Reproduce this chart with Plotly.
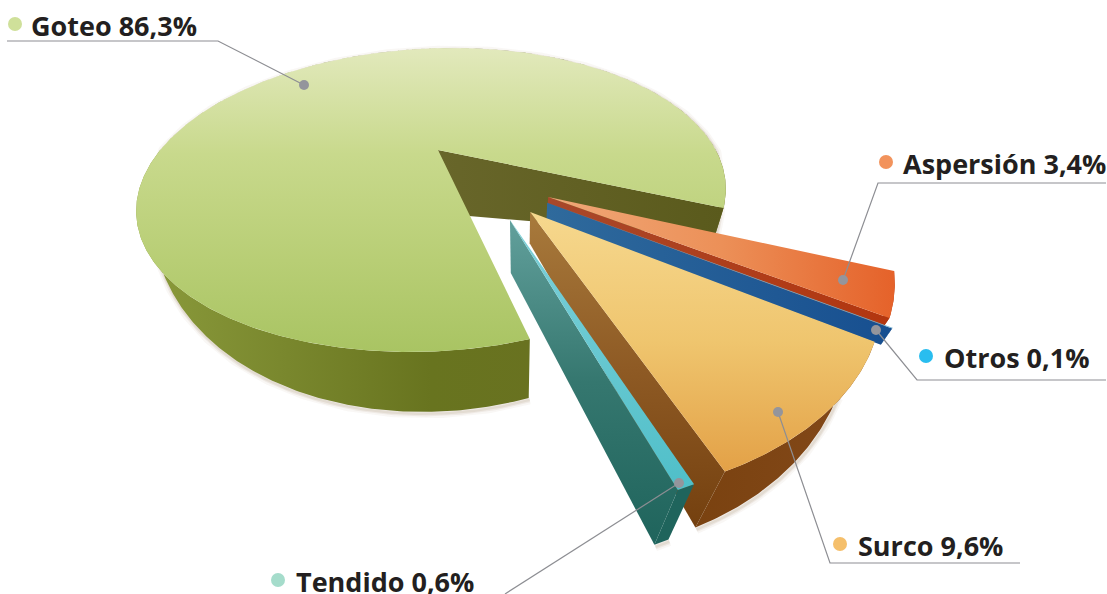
import numpy as np
import plotly.graph_objects as go

# ---- data ----
labels = ["Aspersión", "Otros", "Surco", "Tendido", "Goteo"]
values = [3.4, 0.1, 9.6, 0.6, 86.3]
value_texts = ["3,4%", "0,1%", "9,6%", "0,6%", "86,3%"]

# ---- drawing of the exploded perspective pie ----
first_angle = 22.0
gap_before_goteo = 1.7      # degrees of air the artwork leaves next to the big slice
explode_r = [0.489, 0.508, 0.508, 0.508, 0.0]
explode_ang = [39.5, 42.9, 51.6, 60.3, 0.0]
radius = [1.013, 1.01, 1.0, 0.985, 1.0]
apex_drop = [0.02, 0.025, 0.048, 0.083, 0.09]
rim_drop = [0.033, 0.033, 0.108, 0.108, 0.118]

top_col = [
    ("horizontal", [[0, "#f0a878"], [0.5, "#ec9058"], [1, "#e5622a"]]),
    ("horizontal", [[0, "#7fb4cf"], [1, "#6fb0d0"]]),
    ("vertical", [[0, "#e3a147"], [0.5, "#efc56e"], [1, "#f6d88e"]]),
    ("vertical", [[0, "#4fbfc9"], [1, "#7fd0d8"]]),
    ("vertical", [[0, "#a9c463"], [0.3, "#b8ce75"], [0.65, "#c8d98c"], [1, "#e2e9bc"]]),
]
rim_col = [
    ("horizontal", [[0, "#a8482a"], [1, "#b3360f"]]),
    ("horizontal", [[0, "#2f6a9c"], [1, "#174f90"]]),
    ("horizontal", [[0, "#7a4210"], [1, "#84491a"]]),
    ("horizontal", [[0, "#1f645c"], [1, "#1f645c"]]),
    ("horizontal", [[0, "#8b9b3c"], [0.5, "#68741f"], [1, "#6a6e22"]]),
]
edge_col = [
    ("horizontal", [[0, "#a8482a"], [1, "#b3360f"]]),
    ("horizontal", [[0, "#2f6a9c"], [1, "#174f90"]]),
    ("vertical", [[0, "#74400f"], [0.5, "#8e5a24"], [1, "#a87a3c"]]),
    ("vertical", [[0, "#1f645c"], [0.5, "#35776f"], [1, "#62a09c"]]),
    ("horizontal", [[0, "#68662a"], [1, "#5a5a1c"]]),
]

# plane of the pie -> page, with perspective
CX, CY, A, B, K, S = 438.0, 150.0, 277.7, 135.5, 0.329, -19.0
VX, VY = 520.0, 860.0


def project(u, v):
    w = 1 - K * v
    return CX + (A * u + S * v) / w, CY + B * v / w


def drop(X, Y, t):
    return X + t * (VX - X), Y + t * (VY - Y)


def poly(xs, ys, style):
    kind, scale = style
    return go.Scatter(
        x=list(xs) + [xs[0]], y=list(ys) + [ys[0]], mode="lines", fill="toself",
        line=dict(width=0), hoverinfo="skip", showlegend=False,
        fillgradient=dict(type=kind, colorscale=scale),
    )


fig = go.Figure()

sweeps = [v * 3.6 for v in values]
sweeps[-1] -= gap_before_goteo
starts = first_angle + np.concatenate([[0], np.cumsum(sweeps)[:-1]])
starts[-1] += gap_before_goteo

slice_order = [4, 0, 1, 2, 3]
for i in slice_order:
    th = np.radians(np.linspace(starts[i], starts[i] + sweeps[i], max(12, int(sweeps[i] * 2))))
    au = explode_r[i] * np.cos(np.radians(explode_ang[i]))
    av = explode_r[i] * np.sin(np.radians(explode_ang[i]))
    u = au + radius[i] * np.cos(th)
    v = av + radius[i] * np.sin(th)
    X, Y = project(u, v)
    t = np.maximum(0, rim_drop[i] * v)
    LX, LY = drop(X, Y, t)
    ax, ay = project(au, av)
    lax, lay = drop(ax, ay, apex_drop[i])
    # soft contact shadow under the rim
    if rim_drop[i] > 0.05:
        for w_, op in ((9, 0.05), (5, 0.08), (2.5, 0.10)):
            fig.add_trace(go.Scatter(x=LX + 1, y=LY + 2, mode="lines", hoverinfo="skip", showlegend=False,
                                     line=dict(width=w_, color=f"rgba(130,95,50,{op})")))
    # rim
    fig.add_trace(poly(np.r_[X, LX[::-1]], np.r_[Y, LY[::-1]], rim_col[i]))
    # visible cut face
    fig.add_trace(poly([ax, X[-1], LX[-1], lax], [ay, Y[-1], LY[-1], lay], edge_col[i]))
    # top
    fig.add_trace(poly(np.r_[ax, X], np.r_[ay, Y], top_col[i]))

# ---- callouts ----
GREY = "#8d8e93"
leaders = {
    "Goteo": ([7, 218, 304], [41, 41, 85]),
    "Aspersión": ([1106, 878, 843], [183, 183, 280]),
    "Otros": ([1106, 917, 876], [380, 380, 330]),
    "Surco": ([1020, 830, 778], [563, 563, 412]),
    "Tendido": ([505, 679], [594, 483]),
}
for name, (lx, ly) in leaders.items():
    fig.add_trace(go.Scatter(x=lx, y=ly, mode="lines", line=dict(color=GREY, width=1.2),
                             hoverinfo="skip", showlegend=False))
    fig.add_trace(go.Scatter(x=[lx[-1]], y=[ly[-1]], mode="markers",
                             marker=dict(color="#94959c", size=10), hoverinfo="skip", showlegend=False))

key_x = {"Goteo": 15, "Aspersión": 886, "Otros": 926, "Surco": 840, "Tendido": 278}
key_y = {"Goteo": 24, "Aspersión": 162, "Otros": 356, "Surco": 544, "Tendido": 580}
key_col = {"Goteo": "#cfe09a", "Aspersión": "#f2935c", "Otros": "#29bdef", "Surco": "#f5bf6b", "Tendido": "#a5dccb"}
text_x = {"Goteo": 29, "Aspersión": 901, "Otros": 942, "Surco": 856, "Tendido": 294}
for name, val in zip(labels, value_texts):
    fig.add_trace(go.Scatter(x=[key_x[name]], y=[key_y[name]], mode="markers",
                             marker=dict(color=key_col[name], size=14), hoverinfo="skip", showlegend=False))
    fig.add_annotation(x=text_x[name], y=key_y[name] + 1, text=f"<b>{name} {val}</b>", showarrow=False,
                       xanchor="left", yanchor="middle",
                       font=dict(family="Open Sans", size=27, color="#231f20"))

fig.update_layout(
    width=1107, height=594, autosize=False, margin=dict(l=0, r=0, t=0, b=0),
    paper_bgcolor="white", plot_bgcolor="white", showlegend=False,
    xaxis=dict(range=[0, 1107], visible=False, fixedrange=True),
    yaxis=dict(range=[594, 0], visible=False, fixedrange=True),
)
fig.write_html("out.html", config={"displayModeBar": False},
               post_script="document.body.style.margin='0';")
